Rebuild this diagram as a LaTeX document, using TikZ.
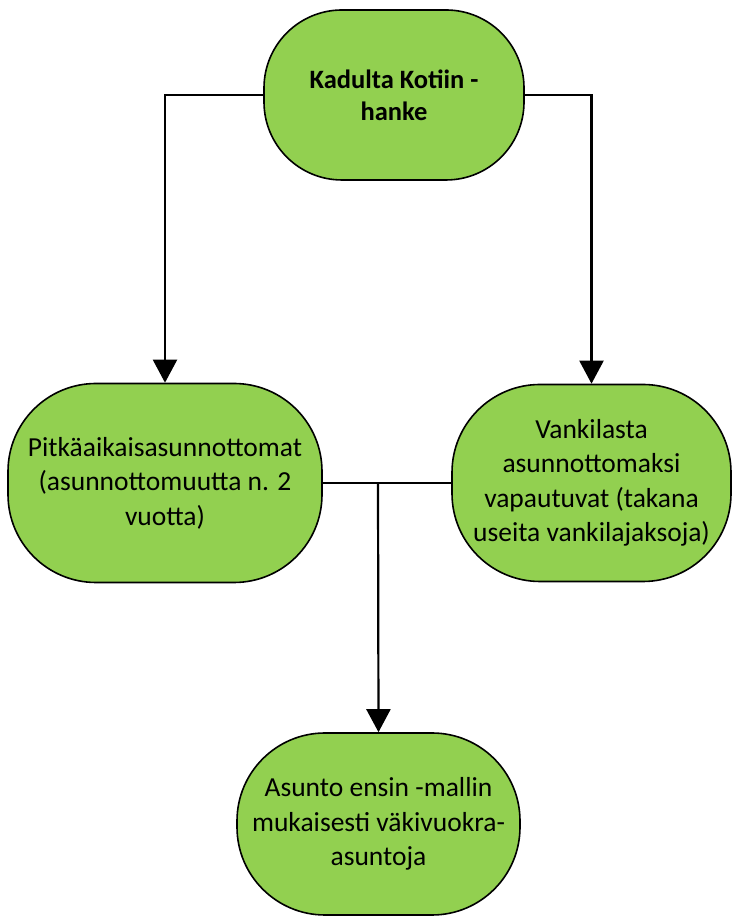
\documentclass[tikz,border=0pt]{standalone}
\usepackage{fontspec}
\setmainfont{Carlito}
\usetikzlibrary{arrows.meta}
\definecolor{boxgreen}{HTML}{92D050}
\begin{document}
\begin{tikzpicture}[x=1pt,y=1pt,
  box/.style={draw=black, line width=1.6pt, fill=boxgreen, align=center,
    font=\fontsize{27.5}{34.5}\selectfont, inner sep=0pt, rounded corners=88pt},
  conn/.style={draw=black, line width=2.2pt},
  arr/.style={conn, -{Triangle[width=24pt,length=23pt]}}]
\useasboundingbox (0,0) rectangle (731,917);
\fill[white] (0,0) rectangle (731,917);
\node[box, minimum width=260pt, minimum height=170pt, rounded corners=78pt, font=\fontsize{26.5}{32}\selectfont\bfseries]
  (top) at (394,822) {Kadulta Kotiin -\\hanke};
\node[box, minimum width=314pt, minimum height=199pt] (left) at (165,434)
  {Pitkäaikaisasunnottomat\\(asunnottomuutta n. 2\\vuotta)};
\node[box, minimum width=279pt, minimum height=197pt] (right) at (591.5,434)
  {Vankilasta\\asunnottomaksi\\vapautuvat (takana\\useita vankilajaksoja)};
\node[box, minimum width=283pt, minimum height=182pt] (bottom) at (378.5,93)
  {Asunto ensin -mallin\\mukaisesti väkivuokra-\\asuntoja};
\coordinate (j) at (378,434);
\draw[arr] (top.west) -| (left.north);
\draw[arr] (top.east) -| (right.north);
\draw[conn] (left.east) -- (right.west);
\draw[arr] (j) -- (bottom.north);
\end{tikzpicture}
\end{document}
